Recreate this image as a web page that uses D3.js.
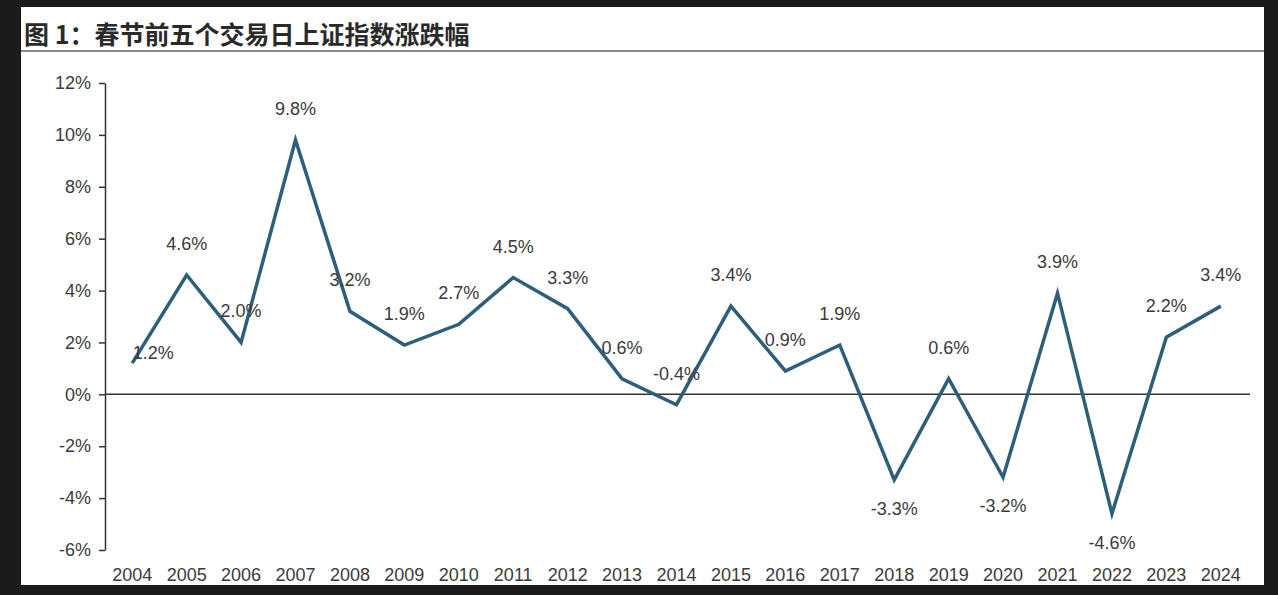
<!DOCTYPE html>
<html><head><meta charset="utf-8">
<script src="https://cdn.jsdelivr.net/npm/d3@7"></script>
<style>
html,body{margin:0;padding:0;background:#1b1b1b;}
svg{display:block;}
</style></head>
<body>
<svg id="chart" width="1278" height="595"></svg>
<script>
const years = ["2004","2005","2006","2007","2008","2009","2010","2011","2012","2013","2014","2015","2016","2017","2018","2019","2020","2021","2022","2023","2024"];
const values = [1.2,4.6,2.0,9.8,3.2,1.9,2.7,4.5,3.3,0.6,-0.4,3.4,0.9,1.9,-3.3,0.6,-3.2,3.9,-4.6,2.2,3.4];
const yTicks = [-6,-4,-2,0,2,4,6,8,10,12];
const title = "图 1：春节前五个交易日上证指数涨跌幅";

const svg = d3.select("#chart");
svg.append("rect").attr("x",21).attr("y",7).attr("width",1243).attr("height",578).attr("fill","#fff");
svg.append("text").attr("x",24).attr("y",44).attr("font-family","'Noto Sans CJK SC'").attr("font-weight","bold")
  .attr("font-size",25).attr("fill","#2a2a2a").text(title);
svg.append("line").attr("x1",21).attr("x2",1264).attr("y1",51).attr("y2",51).attr("stroke","#8a8a8a").attr("stroke-width",2);

const x = d3.scaleBand().domain(years).range([105,1248]);
const y = d3.scaleLinear().domain([-6,12]).range([550,83]);
const font = "'Liberation Sans', Arial, sans-serif";
const txt = "#3a3a3a";

const yAxis = svg.append("g").attr("transform","translate(105,0)")
  .call(d3.axisLeft(y).tickValues(yTicks).tickFormat(d=>d+"%").tickSize(6).tickSizeOuter(0));
yAxis.select(".domain").attr("stroke","#333").attr("stroke-width",1.5);
yAxis.selectAll(".tick line").attr("stroke","#333").attr("stroke-width",1.5);
yAxis.selectAll("text").attr("font-family",font).attr("font-size",18).attr("fill",txt).attr("x",-14);

// zero axis
svg.append("line").attr("x1",105).attr("x2",1250).attr("y1",y(0)).attr("y2",y(0)).attr("stroke","#333").attr("stroke-width",1.5);

const xAxis = svg.append("g").attr("transform","translate(0,"+565+")")
  .call(d3.axisBottom(x).tickSize(0));
xAxis.select(".domain").remove();
xAxis.selectAll("text").attr("font-family",font).attr("font-size",18).attr("fill",txt).attr("y",16).attr("dy",0);

const cx = d=>x(d)+x.bandwidth()/2;
const line = d3.line().x((d,i)=>cx(years[i])).y(d=>y(d));
svg.append("path").datum(values).attr("d",line).attr("fill","none")
  .attr("stroke","#2d5f7c").attr("stroke-width",3.5).attr("stroke-linejoin","miter");

svg.append("g").selectAll("text").data(values).join("text")
  .attr("font-family",font).attr("font-size",18).attr("fill",txt).attr("text-anchor","middle")
  .attr("x",(d,i)=> i===0 ? cx(years[i])+21 : cx(years[i]))
  .attr("y",(d,i)=> i===0 ? y(d)-4 : (d<-1 ? y(d)+35 : y(d)-25))
  .text(d=>d.toFixed(1)+"%");
</script>
</body></html>
